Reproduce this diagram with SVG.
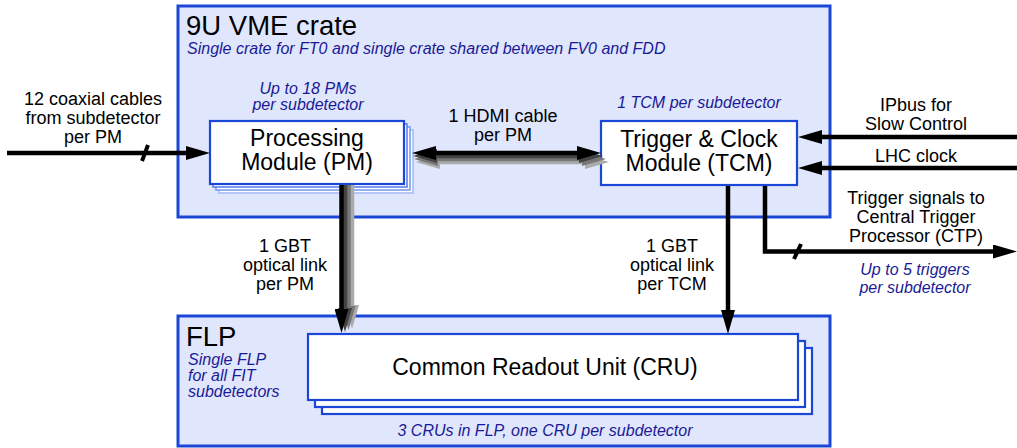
<svg xmlns="http://www.w3.org/2000/svg" width="1017" height="448" viewBox="0 0 1017 448">
<style>
text{font-family:"Liberation Sans",Arial,sans-serif;fill:#000}
.title{font-size:27.5px}
.node{font-size:23px;text-anchor:middle}
.lbl{font-size:18px;text-anchor:middle}
.it{font-size:16px;font-style:italic;fill:#1a1a96}
.itc{font-size:16px;font-style:italic;fill:#1a1a96;text-anchor:middle}
.cont{fill:#e0e6fc;stroke:#1a47d6;stroke-width:3}
.box{fill:#fff;stroke:#1a47d6;stroke-width:2.2}
.sh1{fill:#fff;stroke:#5a7ff0;stroke-width:1.6}
.sh2{fill:#fff;stroke:#7f9cf2;stroke-width:1.6}
.sh3{fill:#fff;stroke:#a7bbf5;stroke-width:1.6}
.w{fill:none;stroke-width:4.5;stroke-linejoin:miter}
.k{stroke:#000}
.g1{stroke:#444}
.g2{stroke:#777}
.g3{stroke:#aaa}
</style>
<defs>
<marker id="ak" markerUnits="userSpaceOnUse" markerWidth="24" markerHeight="14" refX="2" refY="7" orient="auto-start-reverse"><path d="M0,0 L24,7 L0,14 z" fill="#000"/></marker>
<marker id="a1" markerUnits="userSpaceOnUse" markerWidth="24" markerHeight="14" refX="2" refY="7" orient="auto-start-reverse"><path d="M0,0 L24,7 L0,14 z" fill="#444"/></marker>
<marker id="a2" markerUnits="userSpaceOnUse" markerWidth="24" markerHeight="14" refX="2" refY="7" orient="auto-start-reverse"><path d="M0,0 L24,7 L0,14 z" fill="#777"/></marker>
<marker id="a3" markerUnits="userSpaceOnUse" markerWidth="24" markerHeight="14" refX="2" refY="7" orient="auto-start-reverse"><path d="M0,0 L24,7 L0,14 z" fill="#aaa"/></marker>
</defs>

<g id="vme-crate">
<rect class="cont" x="178" y="6" width="652" height="211"/>
<text class="title" x="186" y="35">9U VME crate</text>
<text class="it" x="187" y="54">Single crate for FT0 and single crate shared between FV0 and FDD</text>
</g>

<g id="flp">
<rect class="cont" x="178" y="316" width="652" height="130"/>
<text class="title" x="186" y="346">FLP</text>
<text class="it" x="188" y="365">Single FLP</text>
<text class="it" x="188" y="381">for all FIT</text>
<text class="it" x="188" y="397">subdetectors</text>
<text class="itc" x="545" y="436">3 CRUs in FLP, one CRU per subdetector</text>
</g>

<g id="pm">
<rect class="sh3" x="219" y="130" width="194" height="63"/>
<rect class="sh2" x="216" y="127" width="194" height="63"/>
<rect class="sh1" x="213" y="124" width="194" height="63"/>
<rect class="box" x="210" y="121" width="194" height="63"/>
<text class="node" x="307" y="146">Processing</text>
<text class="node" x="307" y="170">Module (PM)</text>
<text class="itc" x="308" y="94">Up to 18 PMs</text>
<text class="itc" x="308" y="110">per subdetector</text>
</g>

<g id="tcm">
<rect class="box" x="601" y="121" width="196" height="64"/>
<text class="node" x="699" y="147">Trigger &amp; Clock</text>
<text class="node" x="699" y="171">Module (TCM)</text>
<text class="itc" x="699" y="108">1 TCM per subdetector</text>
</g>

<g id="cru">
<rect class="box" x="322" y="348" width="490" height="66"/>
<rect class="box" x="315" y="341" width="490" height="66"/>
<rect class="box" x="308" y="334" width="490" height="66"/>
<text class="node" x="545" y="375">Common Readout Unit (CRU)</text>
</g>

<g id="connectors">
<line class="w k" x1="7" y1="153" x2="188" y2="153" marker-end="url(#ak)"/>
<line x1="142" y1="161" x2="148" y2="145" stroke="#000" stroke-width="4"/>
<text class="lbl" x="93" y="105">12 coaxial cables</text>
<text class="lbl" x="93" y="124">from subdetector</text>
<text class="lbl" x="93" y="143">per PM</text>

<line class="w g3" x1="438" y1="162" x2="587" y2="162" marker-start="url(#a3)" marker-end="url(#a3)"/>
<line class="w g2" x1="436" y1="159" x2="584" y2="159" marker-start="url(#a2)" marker-end="url(#a2)"/>
<line class="w g1" x1="435" y1="156" x2="581" y2="156" marker-start="url(#a1)" marker-end="url(#a1)"/>
<line class="w k" x1="434" y1="153" x2="579" y2="153" marker-start="url(#ak)" marker-end="url(#ak)"/>
<text class="lbl" x="503" y="122">1 HDMI cable</text>
<text class="lbl" x="503" y="141">per PM</text>

<line class="w g3" x1="352" y1="185" x2="352" y2="307" marker-end="url(#a3)"/>
<line class="w g2" x1="348.5" y1="185" x2="348.5" y2="308" marker-end="url(#a2)"/>
<line class="w g1" x1="345" y1="185" x2="345" y2="310" marker-end="url(#a1)"/>
<line class="w k" x1="341.5" y1="185" x2="341.5" y2="311" marker-end="url(#ak)"/>
<text class="lbl" x="285" y="252">1 GBT</text>
<text class="lbl" x="285" y="271">optical link</text>
<text class="lbl" x="285" y="290">per PM</text>

<line class="w k" x1="728" y1="186" x2="728" y2="312" marker-end="url(#ak)"/>
<text class="lbl" x="672" y="252">1 GBT</text>
<text class="lbl" x="672" y="271">optical link</text>
<text class="lbl" x="672" y="290">per TCM</text>

<path class="w k" d="M765,186 V251.5 H995" marker-end="url(#ak)"/>
<line x1="794" y1="259" x2="801" y2="244" stroke="#000" stroke-width="4"/>
<text class="lbl" x="916" y="204">Trigger signals to</text>
<text class="lbl" x="916" y="223">Central Trigger</text>
<text class="lbl" x="916" y="242">Processor (CTP)</text>
<text class="itc" x="915" y="275">Up to 5 triggers</text>
<text class="itc" x="915" y="293">per subdetector</text>

<line class="w k" x1="1017" y1="137" x2="820" y2="137" marker-end="url(#ak)"/>
<text class="lbl" x="916" y="111">IPbus for</text>
<text class="lbl" x="916" y="130">Slow Control</text>

<line class="w k" x1="1017" y1="168" x2="820" y2="168" marker-end="url(#ak)"/>
<text class="lbl" x="916" y="162">LHC clock</text>
</g>
</svg>
